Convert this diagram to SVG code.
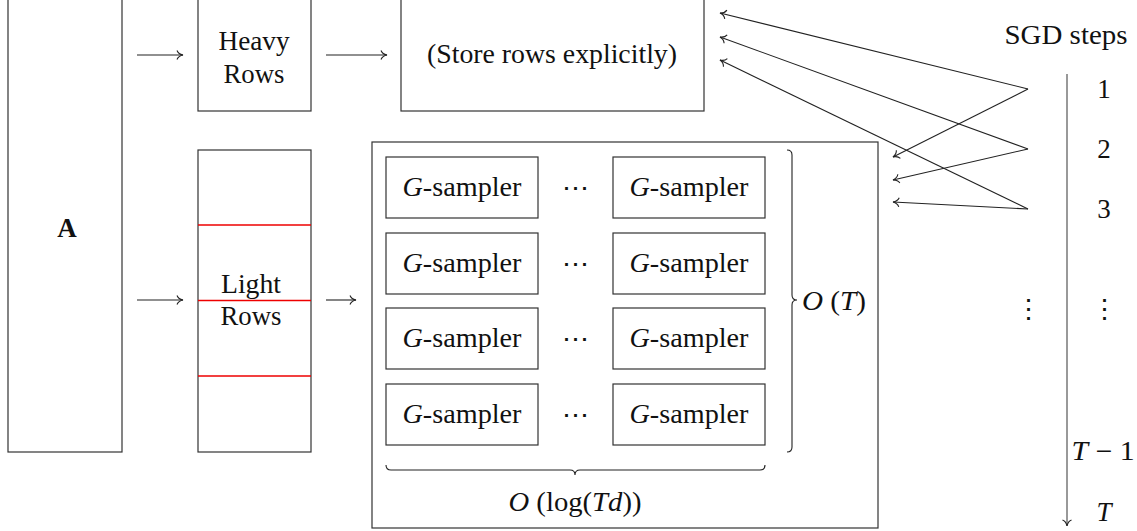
<svg xmlns="http://www.w3.org/2000/svg" width="1137" height="531" viewBox="0 0 1137 531">
<style>
.box{fill:#fff;stroke:#333;stroke-width:1.2}
.ln{fill:none;stroke:#222;stroke-width:1.1}
.t{font-family:"Liberation Serif","DejaVu Serif",serif;font-size:27px;fill:#111;text-anchor:middle}
.i{font-style:italic}
.red{stroke:#e00;stroke-width:1.3}
</style>
<defs>
<marker id="to" markerUnits="userSpaceOnUse" markerWidth="12" markerHeight="12" viewBox="-7 -6 8 12" refX="0" refY="0" orient="auto">
<path d="M-6,-4.5 C-5,-2 -2,-0.4 0,0 C-2,0.4 -5,2 -6,4.5" fill="none" stroke="#222" stroke-width="1.1"/>
</marker>
</defs>

<g id="nodeA"><rect class="box" x="8" y="-20" width="114" height="472"/><text class="t" x="67" y="237" font-weight="bold">A</text></g>
<g id="heavy"><rect class="box" x="198" y="-20" width="113" height="131"/><text class="t" x="254" y="50" textLength="71" lengthAdjust="spacingAndGlyphs">Heavy</text><text class="t" x="254" y="83" textLength="61" lengthAdjust="spacingAndGlyphs">Rows</text></g>
<g id="store"><rect class="box" x="401" y="-20" width="303" height="131"/><text class="t" x="552" y="63" textLength="250" lengthAdjust="spacingAndGlyphs">(Store rows explicitly)</text></g>
<g id="light"><rect class="box" x="198" y="150" width="113" height="302"/>
<line class="red" x1="198" y1="225" x2="311" y2="225"/><line class="red" x1="198" y1="300.5" x2="311" y2="300.5"/><line class="red" x1="198" y1="376" x2="311" y2="376"/>
<text class="t" x="251" y="293" textLength="60" lengthAdjust="spacingAndGlyphs">Light</text><text class="t" x="251" y="325" textLength="61" lengthAdjust="spacingAndGlyphs">Rows</text></g>

<g id="samplers"><rect class="box" x="372" y="142" width="506" height="386"/>
<g id="r1"><rect class="box" x="386" y="157" width="152" height="61"/><text class="t" x="462" y="196" textLength="119" lengthAdjust="spacingAndGlyphs"><tspan class="i">G</tspan>-sampler</text><text class="t" x="575" y="197">⋯</text><rect class="box" x="613" y="157" width="152" height="61"/><text class="t" x="689" y="196" textLength="119" lengthAdjust="spacingAndGlyphs"><tspan class="i">G</tspan>-sampler</text></g>
<g id="r2"><rect class="box" x="386" y="233" width="152" height="61"/><text class="t" x="462" y="272" textLength="119" lengthAdjust="spacingAndGlyphs"><tspan class="i">G</tspan>-sampler</text><text class="t" x="575" y="273">⋯</text><rect class="box" x="613" y="233" width="152" height="61"/><text class="t" x="689" y="272" textLength="119" lengthAdjust="spacingAndGlyphs"><tspan class="i">G</tspan>-sampler</text></g>
<g id="r3"><rect class="box" x="386" y="308" width="152" height="61"/><text class="t" x="462" y="347" textLength="119" lengthAdjust="spacingAndGlyphs"><tspan class="i">G</tspan>-sampler</text><text class="t" x="575" y="348">⋯</text><rect class="box" x="613" y="308" width="152" height="61"/><text class="t" x="689" y="347" textLength="119" lengthAdjust="spacingAndGlyphs"><tspan class="i">G</tspan>-sampler</text></g>
<g id="r4"><rect class="box" x="386" y="384" width="152" height="61"/><text class="t" x="462" y="423" textLength="119" lengthAdjust="spacingAndGlyphs"><tspan class="i">G</tspan>-sampler</text><text class="t" x="575" y="424">⋯</text><rect class="box" x="613" y="384" width="152" height="61"/><text class="t" x="689" y="423" textLength="119" lengthAdjust="spacingAndGlyphs"><tspan class="i">G</tspan>-sampler</text></g>
<path class="ln" d="M787,150 q5,0 5,5 V295 q0,5 5,5 q-5,0 -5,5 V447 q0,5 -5,5"/>
<text class="t" x="834" y="310" textLength="64" lengthAdjust="spacingAndGlyphs"><tspan class="i">O</tspan> (<tspan class="i">T</tspan>)</text>
<path class="ln" d="M386,465 q0,5 5,5 H570 q5,0 5,5 q0,-5 5,-5 H760 q5,0 5,-5"/>
<text class="t" x="575" y="511" textLength="133" lengthAdjust="spacingAndGlyphs"><tspan class="i">O</tspan> (log(<tspan class="i">Td</tspan>))</text>
</g>

<g id="axis">
<text class="t" x="1066" y="44" textLength="123" lengthAdjust="spacingAndGlyphs">SGD steps</text>
<line x1="1067" y1="74" x2="1067" y2="526" stroke="#555" stroke-width="1.2" marker-end="url(#to)"/>
<text class="t" x="1104" y="98">1</text>
<text class="t" x="1104" y="158">2</text>
<text class="t" x="1104" y="218">3</text>
<text class="t" x="1028" y="318">⋮</text>
<text class="t" x="1104" y="318">⋮</text>
<text class="t" x="1103" y="460" textLength="63" lengthAdjust="spacingAndGlyphs"><tspan class="i">T</tspan> − 1</text>
<text class="t i" x="1104" y="521">T</text>
</g>

<g id="connectors">
<line class="ln" x1="137" y1="55" x2="183" y2="55" marker-end="url(#to)"/>
<line class="ln" x1="326" y1="55" x2="387" y2="55" marker-end="url(#to)"/>
<line class="ln" x1="137" y1="300" x2="183" y2="300" marker-end="url(#to)"/>
<line class="ln" x1="326" y1="300" x2="356" y2="300" marker-end="url(#to)"/>
<line class="ln" x1="1028" y1="89" x2="720" y2="13" marker-end="url(#to)"/>
<line class="ln" x1="1028" y1="89" x2="893" y2="157" marker-end="url(#to)"/>
<line class="ln" x1="1028" y1="149" x2="720" y2="37" marker-end="url(#to)"/>
<line class="ln" x1="1028" y1="149" x2="893" y2="180" marker-end="url(#to)"/>
<line class="ln" x1="1028" y1="209" x2="720" y2="60" marker-end="url(#to)"/>
<line class="ln" x1="1028" y1="209" x2="893" y2="202" marker-end="url(#to)"/>
</g>
</svg>
